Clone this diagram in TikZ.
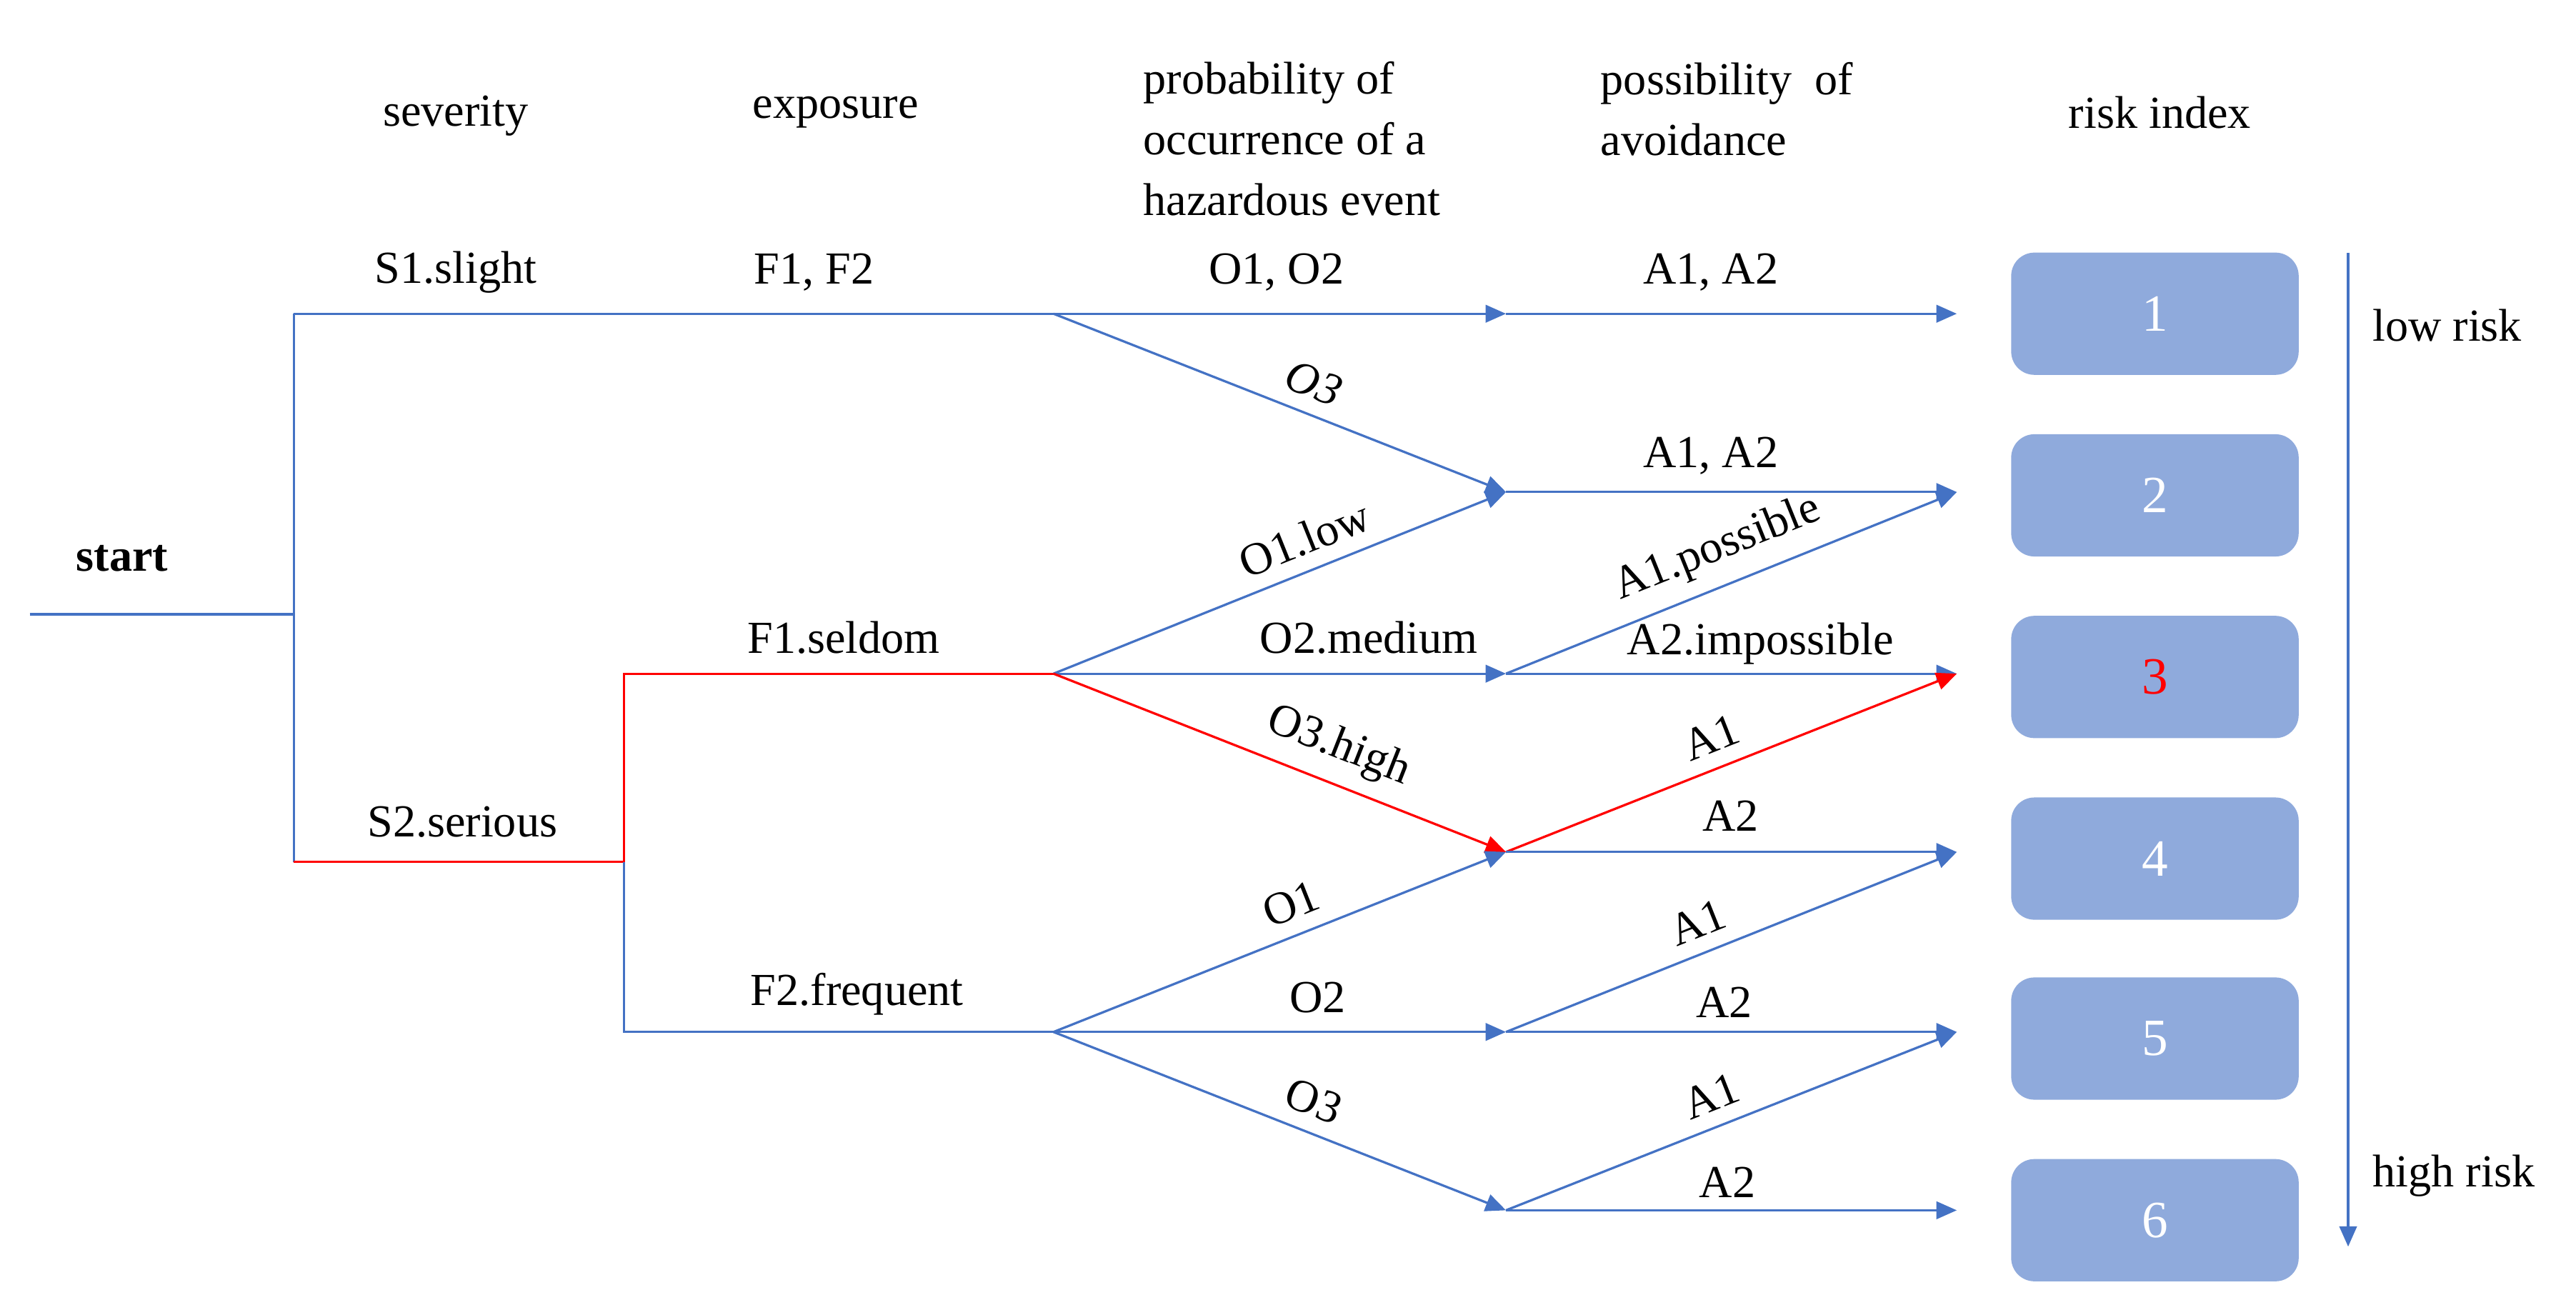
\documentclass[tikz,border=0pt]{standalone}
\usepackage{fontspec}
\setmainfont{Liberation Serif}
\usetikzlibrary{arrows.meta}
\definecolor{bl}{HTML}{4472C4}
\definecolor{bx}{HTML}{8FAADC}
\begin{document}
\begin{tikzpicture}[x=0.01cm,y=-0.01cm,font=\fontsize{7.9}{9.5}\selectfont,
 ln/.style={draw=bl,line width=0.4pt},
 rl/.style={draw=red,line width=0.4pt},
 ar/.style={-{Triangle[length=3.5pt,width=3pt]}},
 box/.style={fill=bx,rounded corners=4pt,minimum width=1.74cm,minimum height=0.74cm,text=white,font=\fontsize{9}{10}\selectfont},
 lb/.style={inner sep=2.5pt}]
\useasboundingbox (0,0) rectangle (1560,793);
% coordinates
\coordinate (s0) at (18,372); \coordinate (s) at (178,372);
\coordinate (v1) at (178,190); \coordinate (v2) at (178,522);
\coordinate (p1) at (638,190); \coordinate (q1) at (912,190); \coordinate (r1) at (1185,190);
\coordinate (q2) at (912,298); \coordinate (r2) at (1185,298);
\coordinate (w1) at (378,522); \coordinate (w2) at (378,408); \coordinate (w3) at (378,625);
\coordinate (p2) at (638,408); \coordinate (p3) at (638,625);
\coordinate (q3) at (912,408); \coordinate (q4) at (912,516); \coordinate (q5) at (912,625); \coordinate (q6) at (912,733);
\coordinate (r3) at (1185,408); \coordinate (r4) at (1185,516); \coordinate (r5) at (1185,625); \coordinate (r6) at (1185,733);
\coordinate (t1) at (1422,153); \coordinate (t2) at (1422,755);
% boxes
\foreach \i/\y in {1/190,2/300,4/520,5/629,6/739}
  \node[box] (b\i) at (1305,\y) {\i};
\node[box,text=red] (b3) at (1305,410) {3};
% lines
\draw[ln] (s0) -- (s);
\draw[ln] (v1) -- (v2);
\draw[ln] (v1) -- (p1);
\draw[ln,ar] (p1) -- (q1);
\draw[ln,ar] (q1) -- (r1);
\draw[ln,ar] (p1) -- (q2) node[lb,pos=0.55,above,sloped]{\itshape O3};
\draw[ln,ar] (q2) -- (r2);
\draw[rl] (v2) -- (w1) -- (w2) -- (p2);
\draw[ln] (w1) -- (w3) -- (p3);
\draw[ln,ar] (p2) -- (q2) node[lb,pos=0.58,above,sloped]{O1.low};
\draw[ln,ar] (p2) -- (q3);
\draw[rl,ar] (p2) -- (q4) node[lb,pos=0.6,above,sloped]{O3.high};
\draw[ln,ar] (q3) -- (r2) node[lb,midway,above,sloped]{A1.possible};
\draw[ln,ar] (q3) -- (r3);
\draw[rl,ar] (q4) -- (r3) node[lb,pos=0.48,above,sloped]{A1};
\draw[ln,ar] (q4) -- (r4);
\draw[ln,ar] (p3) -- (q4) node[lb,pos=0.55,above,sloped]{O1};
\draw[ln,ar] (p3) -- (q5);
\draw[ln,ar] (p3) -- (q6) node[lb,pos=0.55,above,sloped]{O3};
\draw[ln,ar] (q5) -- (r4) node[lb,pos=0.45,above,sloped]{A1};
\draw[ln,ar] (q5) -- (r5);
\draw[ln,ar] (q6) -- (r5) node[lb,pos=0.48,above,sloped]{A1};
\draw[ln,ar] (q6) -- (r6);
\draw[ln,ar] (t1) -- (t2);
% texts
\node[font=\fontsize{7.9}{9.5}\selectfont\bfseries] (st) at (74,338) {start};
\node (h1) at (276,70) {severity};
\node (h2) at (506,68) {exposure};
\node[anchor=west,align=left] (h3) at (680,84) {probability of\\[1pt]occurrence of a\\[1pt]hazardous event};
\node[anchor=west,align=left] (h4) at (957,66) {possibility\ \ of\\[1pt]avoidance};
\node (h5) at (1308,68) {risk index};
\node (l1) at (276,165) {S1.slight};
\node (l2) at (493,165) {F1, F2};
\node (l3) at (773,165) {O1, O2};
\node (l4) at (1036,165) {A1, A2};
\node (l5) at (1036,276) {A1, A2};
\node (l6) at (511,386) {F1.seldom};
\node (l7) at (280,498) {S2.serious};
\node (l8) at (519,602) {F2.frequent};
\node (l9) at (829,386) {O2.medium};
\node (l10) at (1066,390) {A2.impossible};
\node (l11) at (1048,494) {A2};
\node (l12) at (798,604) {O2};
\node (l13) at (1044,607) {A2};
\node (l14) at (1046,716) {A2};
\node (lr) at (1482,197) {low risk};
\node (hr) at (1486,712) {high risk};
\end{tikzpicture}
\end{document}
